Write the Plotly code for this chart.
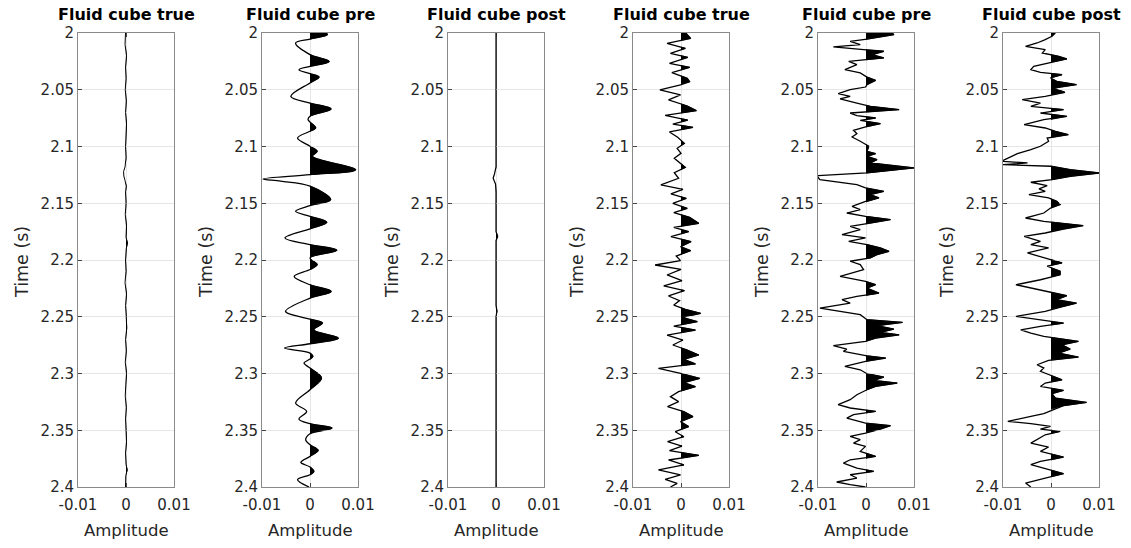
import plotly.graph_objects as go
import numpy as np

# ---------------- data ----------------
titles = ["Fluid cube true", "Fluid cube pre", "Fluid cube post",
          "Fluid cube true", "Fluid cube pre", "Fluid cube post"]
y_ticks = [2.0, 2.05, 2.1, 2.15, 2.2, 2.25, 2.3, 2.35, 2.4]
y_ticktext = ["2", "2.05", "2.1", "2.15", "2.2", "2.25", "2.3", "2.35", "2.4"]
x_ticks = [-0.01, 0.0, 0.01]
x_ticktext = ["-0.01", "0", "0.01"]

t1 = [2.0, 2.01, 2.02, 2.03, 2.04, 2.05, 2.06, 2.07, 2.08, 2.09, 2.1, 2.11, 2.118, 2.122,
      2.126, 2.13, 2.135, 2.14, 2.15, 2.16, 2.17, 2.18, 2.185, 2.19, 2.2, 2.21, 2.22, 2.23,
      2.24, 2.25, 2.26, 2.27, 2.28, 2.29, 2.3, 2.31, 2.32, 2.33, 2.34, 2.35, 2.36, 2.37,
      2.38, 2.385, 2.39, 2.4]
a1 = [-0.0001, -0.0002, 0.0001, -0.0001, 0.0, -0.00015, 0.00005, -0.0001, 0.0001, -0.00005,
      -0.0001, 0.0, -0.0002, -0.0005, -0.00045, -0.0002, 0.00005, -0.0001, 0.0, -0.00015,
      0.0001, 0.0, 0.0003, 0.00005, -0.0001, 0.0, -0.0002, 0.0001, -0.0001, 0.00005,
      0.00015, -0.0001, 0.00005, -0.00015, 0.0001, -0.00005, -0.00015, 0.00005, -0.0001,
      0.0, 0.0001, -0.0001, 0.0, 0.00025, -0.00005, -0.0001]

t2 = [2.0, 2.0015, 2.0053, 2.0088, 2.019, 2.025, 2.0294, 2.0323, 2.0358, 2.0388, 2.044,
      2.0558, 2.0617, 2.0669, 2.0734, 2.0763, 2.0837, 2.0866, 2.0925, 2.0998, 2.1042,
      2.1086, 2.1204, 2.1248, 2.1286, 2.1306, 2.135, 2.1468, 2.1521, 2.1571, 2.1615,
      2.1668, 2.1726, 2.1806, 2.1864, 2.1914, 2.1982, 2.204, 2.2084, 2.2145, 2.2218,
      2.2277, 2.2336, 2.2453, 2.2521, 2.2556, 2.2615, 2.2688, 2.2738, 2.2776, 2.282,
      2.285, 2.2873, 2.2908, 2.2952, 2.304, 2.3143, 2.326, 2.3334, 2.3401, 2.3442,
      2.3481, 2.3531, 2.3584, 2.3628, 2.3677, 2.373, 2.3783, 2.3824, 2.3862, 2.3892,
      2.3936, 2.4]
a2 = [0.0034, 0.0036, 0.0, -0.003, 0.0, 0.004, 0.0, -0.0023, 0.0, 0.0019, 0.0,
      -0.004, 0.0, 0.0044, 0.0, -0.0004, 0.0012, 0.0, -0.0026, 0.0, 0.0015,
      0.0005, 0.0095, 0.0, -0.0098, -0.0061, 0.0, 0.0043, 0.0, -0.003, 0.0,
      0.0035, 0.0, -0.0052, 0.0, 0.0056, 0.0, 0.0015, 0.0, -0.0033, 0.0,
      0.0044, 0.0, -0.0051, 0.0, 0.0026, 0.0008, 0.0059, 0.0, -0.0053, 0.0,
      0.0006, 0.0, -0.00125, 0.0, 0.0024, 0.0, -0.003, -0.0007, -0.0023, 0.0,
      0.0046, 0.0, -0.0009, 0.0, 0.0017, 0.0, -0.0019, 0.0, 0.0008, 0.0,
      -0.0026, -0.0002]

t3 = [2.0, 2.1, 2.118, 2.124, 2.128, 2.133, 2.14, 2.175, 2.179, 2.183, 2.24, 2.245, 2.25, 2.4]
a3 = [0.0, 0.0, 0.0, -0.0003, -0.0006, -0.0001, 0.0, 0.0, 0.00035, 0.0, 0.0, 0.0002, 0.0, 0.0]

t4 = [2.000, 2.0047, 2.0091, 2.0135, 2.0179, 2.0214, 2.0267, 2.0302, 2.0349, 2.0399,
      2.0429, 2.0458, 2.0502, 2.0546, 2.0590, 2.0643, 2.0684, 2.0725, 2.0767, 2.0802,
      2.0831, 2.0872, 2.0919, 2.0972, 2.1016, 2.1060, 2.1104, 2.1148, 2.1184, 2.1231,
      2.1280, 2.1339, 2.1377, 2.1418, 2.1457, 2.1501, 2.1545, 2.1583, 2.1624, 2.1677,
      2.1712, 2.1750, 2.1794, 2.1838, 2.1883, 2.1918, 2.1965, 2.2006, 2.2044, 2.2082,
      2.2132, 2.2182, 2.2229, 2.2270, 2.2317, 2.2358, 2.2397, 2.2435, 2.2470, 2.2505,
      2.2543, 2.2582, 2.2617, 2.2661, 2.2705, 2.2749, 2.2793, 2.2837, 2.2875, 2.2916,
      2.2954, 2.2998, 2.3043, 2.3081, 2.3116, 2.3160, 2.3204, 2.3248, 2.3292, 2.3336,
      2.3380, 2.3424, 2.3468, 2.3513, 2.3557, 2.3601, 2.3639, 2.3680, 2.3721, 2.3762,
      2.3806, 2.3850, 2.3894, 2.3932, 2.3968, 2.4000]
a4 = [0.0010, 0.0020, -0.0029, 0.0009, -0.0022, 0.0014, -0.0024, 0.0018, -0.0019, 0.0013,
      0.0018, -0.0001, -0.0044, -0.0001, -0.0026, 0.0013, 0.0032, -0.0033, 0.0014, -0.0017,
      0.0025, -0.0024, -0.0007, 0.0007, -0.0008, 0.0000, -0.0014, -0.0001, 0.0009, -0.0014,
      -0.0005, -0.0042, 0.0004, -0.0021, 0.0011, -0.0017, 0.0013, -0.0015, 0.0018, 0.0037,
      -0.0015, 0.0016, -0.0021, 0.0021, -0.0001, 0.0020, -0.0010, -0.0001, -0.0054, 0.0000,
      -0.0029, 0.0002, -0.0036, 0.0007, -0.0026, -0.0003, -0.0015, 0.0009, 0.0041, 0.0002,
      0.0034, -0.0015, 0.0030, -0.0029, 0.0004, -0.0017, 0.0013, 0.0037, 0.0006, 0.0030,
      -0.0047, -0.0001, 0.0039, 0.0006, 0.0030, -0.0005, -0.0022, -0.0005, -0.0028, 0.0006,
      0.0025, -0.0001, 0.0016, -0.0012, 0.0006, -0.0028, 0.0002, -0.0024, 0.0037, -0.0026,
      0.0006, -0.0047, -0.0001, -0.0033, -0.0008, -0.0022]

t5 = [2.0000, 2.0015, 2.0053, 2.0073, 2.0103, 2.0123, 2.0147, 2.0161, 2.0191, 2.0220,
      2.0250, 2.0279, 2.0323, 2.0352, 2.0388, 2.0417, 2.0455, 2.0476, 2.0499, 2.0534,
      2.0558, 2.0581, 2.0617, 2.0646, 2.0675, 2.0705, 2.0728, 2.0749, 2.0769, 2.0799,
      2.0828, 2.0857, 2.0887, 2.0916, 2.0954, 2.0998, 2.1042, 2.1063, 2.1086, 2.1116,
      2.1145, 2.1189, 2.1233, 2.1257, 2.1292, 2.1336, 2.1365, 2.1395, 2.1424, 2.1453,
      2.1483, 2.1527, 2.1556, 2.1586, 2.1615, 2.1644, 2.1680, 2.1703, 2.1732, 2.1776,
      2.1806, 2.1835, 2.1864, 2.1894, 2.1923, 2.1953, 2.1982, 2.2011, 2.2041, 2.2085,
      2.2145, 2.2189, 2.2218, 2.2248, 2.2292, 2.2321, 2.2350, 2.2380, 2.2424, 2.2453,
      2.2482, 2.2526, 2.2550, 2.2579, 2.2609, 2.2638, 2.2659, 2.2688, 2.2717, 2.2755,
      2.2785, 2.2805, 2.2844, 2.2864, 2.2893, 2.2937, 2.2967, 2.3002, 2.3031, 2.3061,
      2.3084, 2.3114, 2.3143, 2.3187, 2.3231, 2.3275, 2.3304, 2.3334, 2.3363, 2.3393,
      2.3437, 2.3460, 2.3490, 2.3525, 2.3554, 2.3583, 2.3613, 2.3642, 2.3686, 2.3730,
      2.3760, 2.3789, 2.3833, 2.3862, 2.3892, 2.3921, 2.3956, 2.3980, 2.4000]
a5 = [0.0055, 0.0058, 0.0002, -0.0033, -0.0012, -0.0068, -0.0005, 0.0037, 0.0013, 0.0037,
      -0.0036, -0.0019, -0.0044, -0.0012, 0.0002, 0.0020, 0.0002, -0.0001, -0.0033, -0.0058,
      -0.0033, -0.0054, -0.0019, 0.0009, 0.0069, -0.0033, -0.0019, 0.0020, -0.0012, 0.0030,
      -0.0001, -0.0026, -0.0019, -0.0029, -0.0012, 0.0006, 0.0002, 0.0020, 0.0002, 0.0023,
      0.0009, 0.0100, 0.0002, -0.0103, -0.0096, -0.0019, -0.0001, 0.0037, 0.0009, 0.0027,
      -0.0001, -0.0029, -0.0012, -0.0040, -0.0001, 0.0051, 0.0002, -0.0033, -0.0012, -0.0050,
      -0.0001, -0.0036, 0.0002, 0.0030, 0.0048, 0.0023, 0.0009, -0.0033, -0.0012, -0.0005,
      -0.0054, -0.0001, 0.0020, 0.0002, 0.0027, -0.0019, -0.0050, -0.0033, -0.0096, -0.0054,
      -0.0012, 0.0002, 0.0076, 0.0023, 0.0058, 0.0030, 0.0069, 0.0020, -0.0001, -0.0068,
      -0.0040, -0.0047, 0.0002, 0.0041, -0.0001, -0.0044, -0.0012, 0.0002, 0.0037, 0.0016,
      0.0065, 0.0020, 0.0002, -0.0019, -0.0033, -0.0058, -0.0033, 0.0020, -0.0026, -0.0040,
      -0.0001, 0.0051, 0.0030, -0.0001, -0.0033, -0.0012, -0.0026, -0.0001, -0.0012, 0.0020,
      -0.0033, -0.0047, -0.0019, 0.0016, -0.0033, -0.0019, -0.0061, -0.0033, -0.0001]

t6 = [2.0000, 2.0029, 2.0059, 2.0088, 2.0117, 2.0147, 2.0176, 2.0205, 2.0229, 2.0258,
      2.0294, 2.0323, 2.0347, 2.0367, 2.0396, 2.0426, 2.0455, 2.0485, 2.0523, 2.0558,
      2.0587, 2.0617, 2.0646, 2.0675, 2.0705, 2.0734, 2.0763, 2.0808, 2.0837, 2.0866,
      2.0896, 2.0925, 2.0954, 2.0998, 2.1028, 2.1063, 2.1101, 2.1130, 2.1145, 2.1160,
      2.1174, 2.1204, 2.1233, 2.1263, 2.1292, 2.1315, 2.1345, 2.1374, 2.1395, 2.1424,
      2.1453, 2.1483, 2.1512, 2.1542, 2.1586, 2.1630, 2.1659, 2.1697, 2.1727, 2.1762,
      2.1791, 2.1835, 2.1864, 2.1894, 2.1938, 2.1982, 2.2026, 2.2055, 2.2099, 2.2130,
      2.2174, 2.2218, 2.2248, 2.2277, 2.2315, 2.2350, 2.2380, 2.2409, 2.2453, 2.2497,
      2.2526, 2.2556, 2.2585, 2.2615, 2.2644, 2.2673, 2.2717, 2.2747, 2.2785, 2.2820,
      2.2855, 2.2884, 2.2923, 2.2952, 2.2981, 2.3011, 2.3055, 2.3084, 2.3114, 2.3149,
      2.3178, 2.3216, 2.3255, 2.3284, 2.3319, 2.3354, 2.3378, 2.3422, 2.3442, 2.3466,
      2.3490, 2.3510, 2.3540, 2.3584, 2.3613, 2.3648, 2.3686, 2.3736, 2.3774, 2.3803,
      2.3833, 2.3883, 2.3921, 2.3965, 2.4000]
a6 = [0.0009, 0.0002, -0.0012, -0.0029, -0.0053, -0.0012, -0.0018, 0.0016, 0.0033, -0.0001,
      -0.0036, -0.0042, -0.0022, 0.0023, -0.0001, 0.0012, 0.0053, 0.0005, 0.0029, -0.0012,
      -0.0060, -0.0022, -0.0042, 0.0026, -0.0022, 0.0033, -0.0015, -0.0056, -0.0012, 0.0009,
      0.0036, -0.0008, -0.0005, -0.0022, -0.0042, -0.0070, -0.0090, -0.0103, -0.0049, -0.0100,
      0.0000, 0.0040, 0.0101, 0.0040, 0.0002, -0.0042, -0.0008, -0.0025, -0.0012, -0.0046,
      -0.0005, 0.0012, 0.0019, -0.0001, -0.0015, -0.0053, -0.0015, 0.0067, 0.0026, -0.0012,
      -0.0056, -0.0022, -0.0042, -0.0005, -0.0049, -0.0012, 0.0023, -0.0008, 0.0019, 0.0019,
      -0.0022, -0.0073, -0.0042, -0.0012, 0.0033, 0.0012, 0.0053, 0.0026, -0.0012, -0.0073,
      -0.0029, 0.0026, -0.0022, -0.0063, -0.0042, -0.0015, 0.0057, 0.0023, 0.0040, 0.0016,
      0.0057, -0.0005, -0.0029, -0.0015, -0.0022, -0.0005, 0.0023, -0.0012, -0.0022, 0.0026,
      0.0002, 0.0009, 0.0074, 0.0026, 0.0005, -0.0015, -0.0042, -0.0090, -0.0042, -0.0001,
      -0.0022, 0.0019, -0.0012, -0.0029, -0.0042, -0.0005, -0.0022, 0.0026, -0.0022, -0.0042,
      -0.0015, 0.0026, -0.0012, -0.0053, -0.0042]

times = [t1, t2, t3, t4, t5, t6]
amps = [a1, a2, a3, a4, a5, a6]
shapes_line = ["linear", "spline", "linear", "linear", "linear", "linear"]
widths_line = [1.0, 1.3, 1.2, 1.3, 1.3, 1.3]
for tt, aa in zip(times, amps):
    assert len(tt) == len(aa), (len(tt), len(aa))

# ---------------- layout geometry (pixels) ----------------
W, H = 1131, 548
lefts = [78, 262, 448, 633, 818, 1003]
pw = 96
top_px, bot_px = 33, 487
FONT = "DejaVu Sans"
TXT = "#262626"

fig = go.Figure()
annotations = []
for i in range(6):
    n = "" if i == 0 else str(i + 1)
    m = str(i + 7)                     # hidden half-width axis used for positive fill
    xa, ya, xf = "x" + n, "y" + n, "x" + m
    t = np.array(times[i])
    a = np.array(amps[i])
    # line trace on the full panel
    fig.add_trace(go.Scatter(x=a, y=t, xaxis=xa, yaxis=ya, mode="lines",
                             line=dict(width=widths_line[i], color="black",
                                       shape=shapes_line[i]),
                             showlegend=False))
    # same trace, filled to zero, shown only on the positive half (clipped by axis)
    fig.add_trace(go.Scatter(x=a, y=t, xaxis=xf, yaxis=ya, mode="lines",
                             line=dict(width=0.8, color="black", shape=shapes_line[i]),
                             fill="tozerox", fillcolor="black",
                             hoverinfo="skip", showlegend=False))
    x0 = lefts[i] / W
    xm = (lefts[i] + pw / 2) / W
    x1 = (lefts[i] + pw) / W
    ydom = [1 - bot_px / H, 1 - top_px / H]
    common = dict(showgrid=True, gridcolor="#e6e6e6", gridwidth=1,
                  showline=True, linecolor="#8a8a8a", linewidth=1, mirror="ticks",
                  ticks="inside", ticklen=4, tickcolor="#444444", zeroline=False,
                  automargin=False,
                  tickfont=dict(family=FONT, size=15, color=TXT))
    fig.layout["xaxis" + n] = dict(domain=[x0, x1], anchor=ya, range=[-0.01, 0.01],
                                   tickvals=x_ticks, ticktext=x_ticktext,
                                   ticklabelstandoff=4, **common)
    fig.layout["yaxis" + n] = dict(domain=ydom, anchor=xa,
                                   range=[2.4, 2.0], tickvals=y_ticks,
                                   ticktext=y_ticktext, **common)
    fig.layout["xaxis" + m] = dict(domain=[xm, x1], anchor=ya, range=[0.0, 0.01],
                                   visible=False, showgrid=False, zeroline=False,
                                   automargin=False)
    cx = (lefts[i] + pw / 2) / W
    annotations.append(dict(text="<b>" + titles[i] + "</b>", x=cx, y=1 - 15 / H,
                            xref="paper", yref="paper", showarrow=False,
                            xanchor="center", yanchor="middle",
                            font=dict(family=FONT, size=16, color="black")))
    annotations.append(dict(text="Amplitude", x=cx, y=1 - 530 / H,
                            xref="paper", yref="paper", showarrow=False,
                            xanchor="center", yanchor="middle",
                            font=dict(family=FONT, size=16.5, color=TXT)))
    annotations.append(dict(text="Time (s)", x=(lefts[i] - 56) / W, y=1 - 262 / H,
                            xref="paper", yref="paper", showarrow=False, textangle=-90,
                            xanchor="center", yanchor="middle",
                            font=dict(family=FONT, size=17.5, color=TXT)))

fig.update_layout(width=W, height=H, margin=dict(l=0, r=0, t=0, b=0),
                  paper_bgcolor="white", plot_bgcolor="rgba(0,0,0,0)",
                  annotations=annotations, showlegend=False)

fig.write_html("out.html")
